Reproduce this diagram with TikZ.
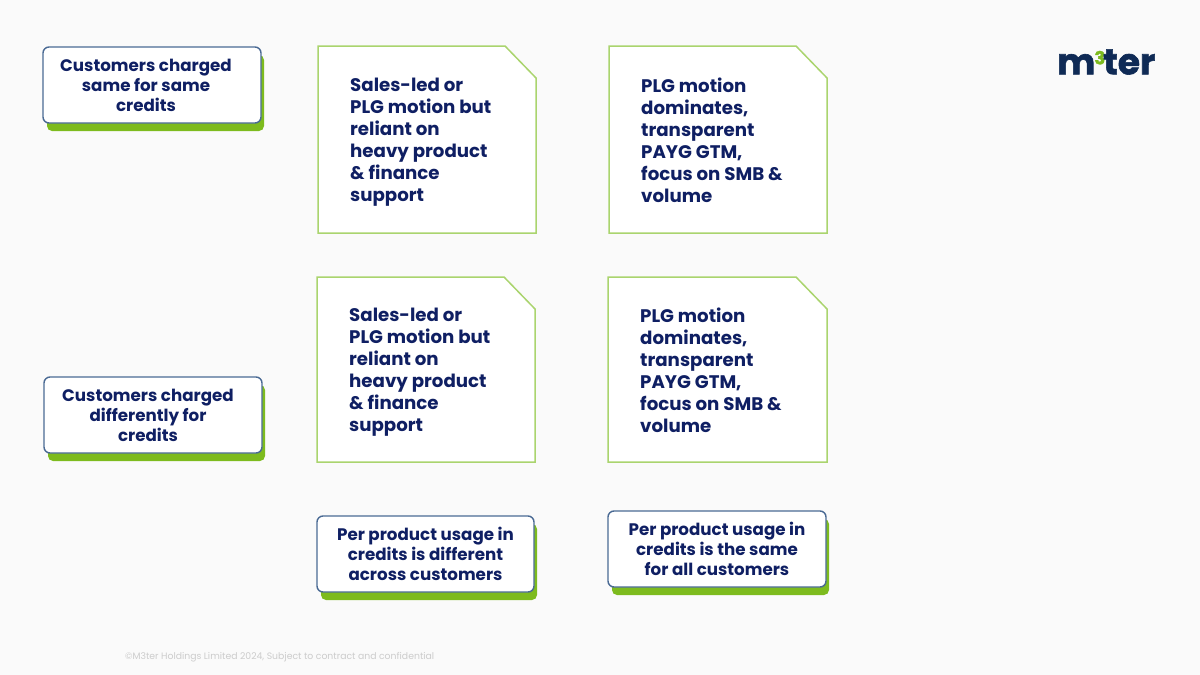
\documentclass[tikz,border=0pt]{standalone}
\usepackage{fontspec}
\setmainfont{Poppins}
\newfontfamily\logofont[BoldFeatures={FakeBold=1.6}]{Poppins}
\definecolor{bgc}{HTML}{FAFAFA}
\definecolor{navy}{HTML}{0F1F63}
\definecolor{edgeblue}{HTML}{4A6A94}
\definecolor{shadowgreen}{HTML}{7DBB1E}
\definecolor{noteedge}{HTML}{AAD46E}
\definecolor{footgray}{HTML}{CCCCCC}
\definecolor{logonavy}{HTML}{0F2A55}
\tikzset{
  x=1pt,y=-1pt,
  notetext/.style={anchor=north west,inner sep=0pt,align=left,text=navy,font=\fontsize{18.2}{22}\selectfont\bfseries},
  labeltext/.style={anchor=center,inner sep=0pt,align=center,text=navy,font=\fontsize{16.7}{20}\selectfont\bfseries},
  labelshadow/.style={fill=shadowgreen,rounded corners=5pt},
  labelbox/.style={draw=edgeblue,line width=1.4pt,fill=white,rounded corners=6pt},
  notebox/.style={draw=noteedge,line width=1.5pt,fill=white,line join=miter},
}
\newcommand{\labelcard}[7]{%
  \fill[labelshadow] (#1+4,#2+8) rectangle (#3+3,#4+8);
  \draw[labelbox] (#1,#2) rectangle (#3,#4);
  \node[labeltext] (#5) at ({(#1+#3)/2+#6},{(#2+#4)/2}) {#7};
}
\newcommand{\notecard}[7]{%
  \draw[notebox] (#1,#2) -- (#3-31,#2) -- (#3,#2+32) -- (#3,#4) -- (#1,#4) -- cycle;
  \node[notetext] (#5) at (#1+32,#2+#6) {#7};
}
\begin{document}
\begin{tikzpicture}
\useasboundingbox (0,0) rectangle (1200,675);
\fill[bgc] (0,0) rectangle (1200,675);
\labelcard{43}{47}{261}{123}{la}{-6}{Customers charged\\same for same\\credits}
\labelcard{44}{377}{262}{453}{lb}{-5}{Customers charged\\differently for\\credits}
\labelcard{317}{516}{534}{592}{lc}{0}{Per product usage in\\credits is different\\across customers}
\labelcard{608}{511}{826}{587}{ld}{0}{Per product usage in\\credits is the same\\for all customers}
\notecard{318}{46}{536}{233}{na}{32}{Sales-led or\\PLG motion but\\reliant on\\heavy product\\\& finance\\support}
\notecard{609}{46}{827}{233}{nb}{32}{PLG motion\\dominates,\\transparent\\PAYG GTM,\\focus on SMB \&\\volume}
\notecard{317}{277}{535}{462}{nc}{31}{Sales-led or\\PLG motion but\\reliant on\\heavy product\\\& finance\\support}
\notecard{608}{277}{827}{462}{nd}{30.5}{PLG motion\\dominates,\\transparent\\PAYG GTM,\\focus on SMB \&\\volume}
\node[anchor=west,inner sep=0pt,text=logonavy,font=\fontsize{36}{36}\logofont\bfseries] (logo) at (1057,62) {m\kern-1pt\raisebox{10pt}{\textcolor{shadowgreen}{\fontsize{18}{18}\selectfont 3}}\kern-2pt ter};
\node[anchor=west,inner sep=0pt,text=footgray,font=\fontsize{9.3}{11}\selectfont] (foot) at (125,657) {©M3ter Holdings Limited 2024, Subject to contract and confidential};
\end{tikzpicture}
\end{document}
